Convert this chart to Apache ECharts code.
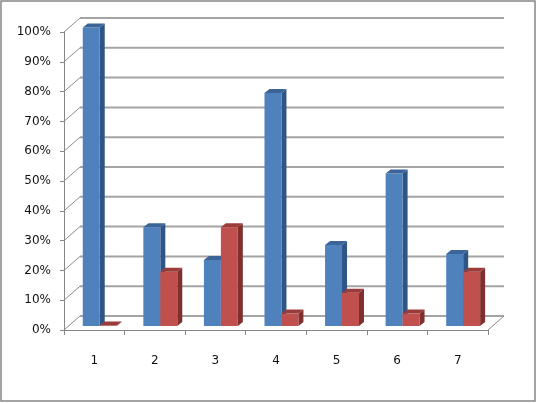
<!DOCTYPE html>
<html>
<head>
<meta charset="utf-8">
<script src="https://cdn.jsdelivr.net/npm/echarts@6/dist/echarts.min.js"></script>
<style>html,body{margin:0;padding:0;background:#fff}#c{width:537px;height:403px}</style>
</head>
<body>
<div id="c"></div>
<script>
const categories = ['1', '2', '3', '4', '5', '6', '7'];
const seriesA = [1.00, 0.33, 0.22, 0.78, 0.27, 0.51, 0.24];
const seriesB = [0.00, 0.18, 0.33, 0.04, 0.11, 0.04, 0.18];
const yTicks = [0, 0.1, 0.2, 0.3, 0.4, 0.5, 0.6, 0.7, 0.8, 0.9, 1.0];

const DEPTH_X = 16, DEPTH_Y = -14;   // back wall offset
const BAR_DX = 5, BAR_DY = -4;       // bar depth

function barRenderer(slot, cFront, cSide, cTop) {
  return function (params, api) {
    const idx = api.value(0), val = api.value(1);
    const top = api.coord([idx, val]);
    const base = api.coord([idx, 0]);
    const band = api.size([1, 0])[0];
    const w = band * 0.28;
    const x0 = top[0] - band / 2 + band * (0.31 + slot * 0.28);
    const yT = top[1] - 4.5;
    const yB = base[1] - 4;
    return {
      type: 'group',
      children: [
        { type: 'polygon', shape: { points: [[x0 + w, yT], [x0 + w + BAR_DX, yT + BAR_DY], [x0 + w + BAR_DX, yB + BAR_DY], [x0 + w, yB]] }, style: { fill: cSide } },
        { type: 'rect', shape: { x: x0, y: yT, width: w, height: yB - yT }, style: { fill: cFront } },
        { type: 'polygon', shape: { points: [[x0, yT], [x0 + BAR_DX, yT + BAR_DY], [x0 + w + BAR_DX, yT + BAR_DY], [x0 + w, yT]] }, style: { fill: cTop } }
      ]
    };
  };
}

const chart = echarts.init(document.getElementById('c'));
chart.setOption({
  backgroundColor: '#fff',
  animation: false,
  graphic: [{
    type: 'rect', shape: { x: 1, y: 1, width: 534, height: 400 },
    style: { fill: 'none', stroke: '#868686', lineWidth: 1.5 }, z: 100
  }],
  grid: { left: 64, top: 32, width: 424, height: 298, containLabel: false },
  xAxis: {
    type: 'category', data: categories,
    axisLine: { show: true, lineStyle: { color: '#868686', width: 1 } },
    axisTick: { show: true, length: 5, alignWithLabel: false, lineStyle: { color: '#868686' } },
    axisLabel: { margin: 25, color: '#111', fontFamily: 'DejaVu Sans', fontSize: 12 },
    splitLine: { show: false }
  },
  yAxis: {
    type: 'value', min: 0, max: 1, interval: 0.1,
    axisLine: { show: true, lineStyle: { color: '#868686', width: 1 } },
    axisTick: { show: true, length: 4, lineStyle: { color: '#868686' } },
    axisLabel: { margin: 13, color: '#111', fontFamily: 'DejaVu Sans', fontSize: 12,
      formatter: v => Math.round(v * 100) + '%' },
    splitLine: { show: false }
  },
  series: [
    {
      type: 'custom', name: 'walls', z: 1, clip: false, silent: true,
      data: yTicks.map(v => [0, v]),
      renderItem: function (params, api) {
        const cs = params.coordSys;
        const y = api.coord([0, api.value(1)])[1];
        const left = cs.x, right = cs.x + cs.width;
        const children = [
          { type: 'line', shape: { x1: left, y1: y, x2: left + DEPTH_X, y2: y + DEPTH_Y }, style: { stroke: '#8c8c8c', lineWidth: 1 } },
          { type: 'line', shape: { x1: left + DEPTH_X, y1: y + DEPTH_Y, x2: right + DEPTH_X, y2: y + DEPTH_Y }, style: { stroke: '#a4a4a4', lineWidth: 2 } }
        ];
        if (api.value(1) === 0) {
          children.push({ type: 'line', shape: { x1: right, y1: y, x2: right + DEPTH_X, y2: y + DEPTH_Y }, style: { stroke: '#8c8c8c', lineWidth: 1 } });
        }
        return { type: 'group', children: children };
      }
    },
    {
      type: 'custom', name: 'A', z: 2, clip: false,
      data: seriesA.map((v, i) => [i, v]),
      renderItem: barRenderer(0, '#4F81BD', '#2F5587', '#3B6499')
    },
    {
      type: 'custom', name: 'B', z: 3, clip: false,
      data: seriesB.map((v, i) => [i, v]),
      renderItem: barRenderer(1, '#C0504D', '#7F302E', '#9A3C3A')
    }
  ]
});
</script>
</body>
</html>
